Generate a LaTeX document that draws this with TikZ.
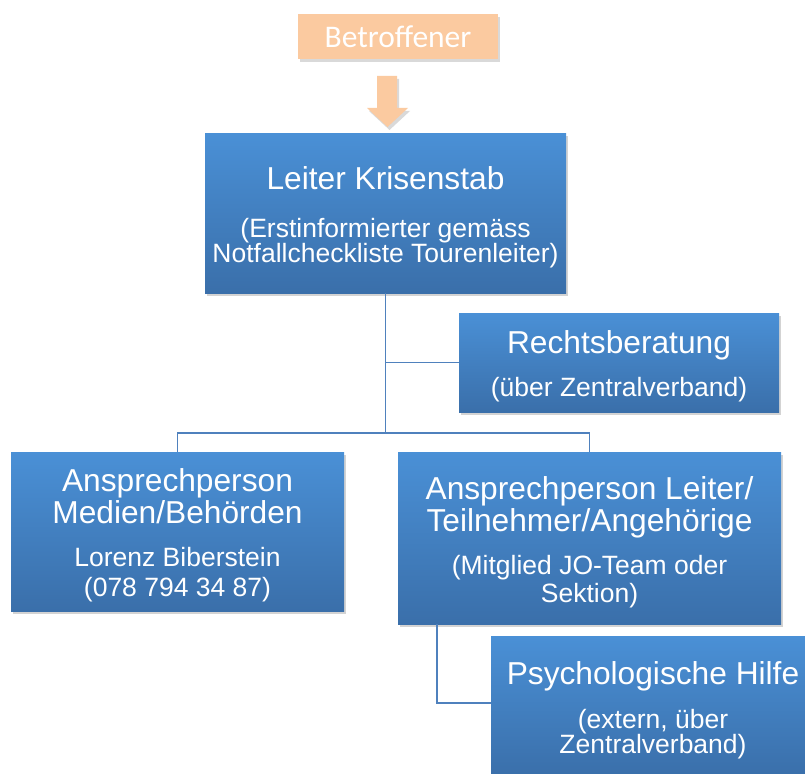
\documentclass[tikz,border=0pt]{standalone}
\usepackage{fontspec}
\setmainfont{Liberation Sans}
\newfontfamily\calibri{Carlito}
\usetikzlibrary{shadows}

\definecolor{boxtop}{RGB}{74,144,214}
\definecolor{boxbottom}{RGB}{58,111,170}
\definecolor{peach}{RGB}{251,202,160}
\definecolor{linkblue}{RGB}{79,129,189}

\tikzset{
  orgbox/.style={rectangle, top color=boxtop, bottom color=boxbottom, text=white,
    align=center, inner sep=0pt,
    font=\fontsize{26.5}{26}\selectfont,
    drop shadow={shadow xshift=2pt, shadow yshift=-3pt, opacity=.35}},
  peachbox/.style={rectangle, fill=peach, text=white, inner sep=0pt,
    font=\calibri\fontsize{31.5}{33}\selectfont,
    drop shadow={shadow xshift=2pt, shadow yshift=-3pt, opacity=.3}},
  link/.style={draw=linkblue, line width=1.5pt},
}
\newcommand\bigline[1]{{\fontsize{31.7}{34}\selectfont\rule{0pt}{31pt}#1}}

\begin{document}
\lineskiplimit=-50pt\relax
\begin{tikzpicture}[x=1pt,y=-1pt]
\useasboundingbox (0,0) rectangle (805,773);
\clip (0,0) rectangle (805,773);

\node[peachbox, minimum width=200pt, minimum height=45pt] (betroffener) at (398,36.5) {Betroffener};
\fill[peach, drop shadow={shadow xshift=2pt, shadow yshift=-3pt, opacity=.3}]
  (377,76) -- (397,76) -- (397,108) -- (408,108) -- (387.5,127) -- (367,108) -- (377,108) -- cycle;

\node[orgbox, minimum width=361pt, minimum height=160pt] (leiter) at (385.5,213)
  {\bigline{Leiter Krisenstab}\\[22pt](Erstinformierter gemäss\\[-1pt]Notfallcheckliste Tourenleiter)};
\node[orgbox, minimum width=320pt, minimum height=99pt] (recht) at (619,362.5)
  {\bigline{Rechtsberatung}\\[17pt](über Zentralverband)};
\node[orgbox, minimum width=333pt, minimum height=159pt] (medien) at (177.5,531.5)
  {\bigline{Ansprechperson}\\[6pt]\bigline{Medien/Behörden}\\[17pt]Lorenz Biberstein\\[4pt](078 794 34 87)};
\node[orgbox, minimum width=383pt, minimum height=172pt] (angeh) at (589.5,538)
  {\bigline{Ansprechperson Leiter/}\\[6pt]\bigline{Teilnehmer/Angehörige}\\[17.5pt](Mitglied JO-Team oder\\[1.5pt]Sektion)};
\node[orgbox, minimum width=324pt, minimum height=140pt] (psych) at (653,706)
  {\bigline{Psychologische Hilfe}\\[17.5pt](extern, über\\[-1pt]Zentralverband)};

% Verbindungen
\coordinate (bus) at (385.5,433);
\draw[link] (leiter.south) -- (bus);
\draw[link] (bus) -| (medien.north);
\draw[link] (bus) -| (angeh.north);
\draw[link] (leiter.south |- recht.west) -- (recht.west);
\draw[link] ([xshift=39pt]angeh.south west) |- ([yshift=3pt]psych.west);
\end{tikzpicture}
\end{document}
